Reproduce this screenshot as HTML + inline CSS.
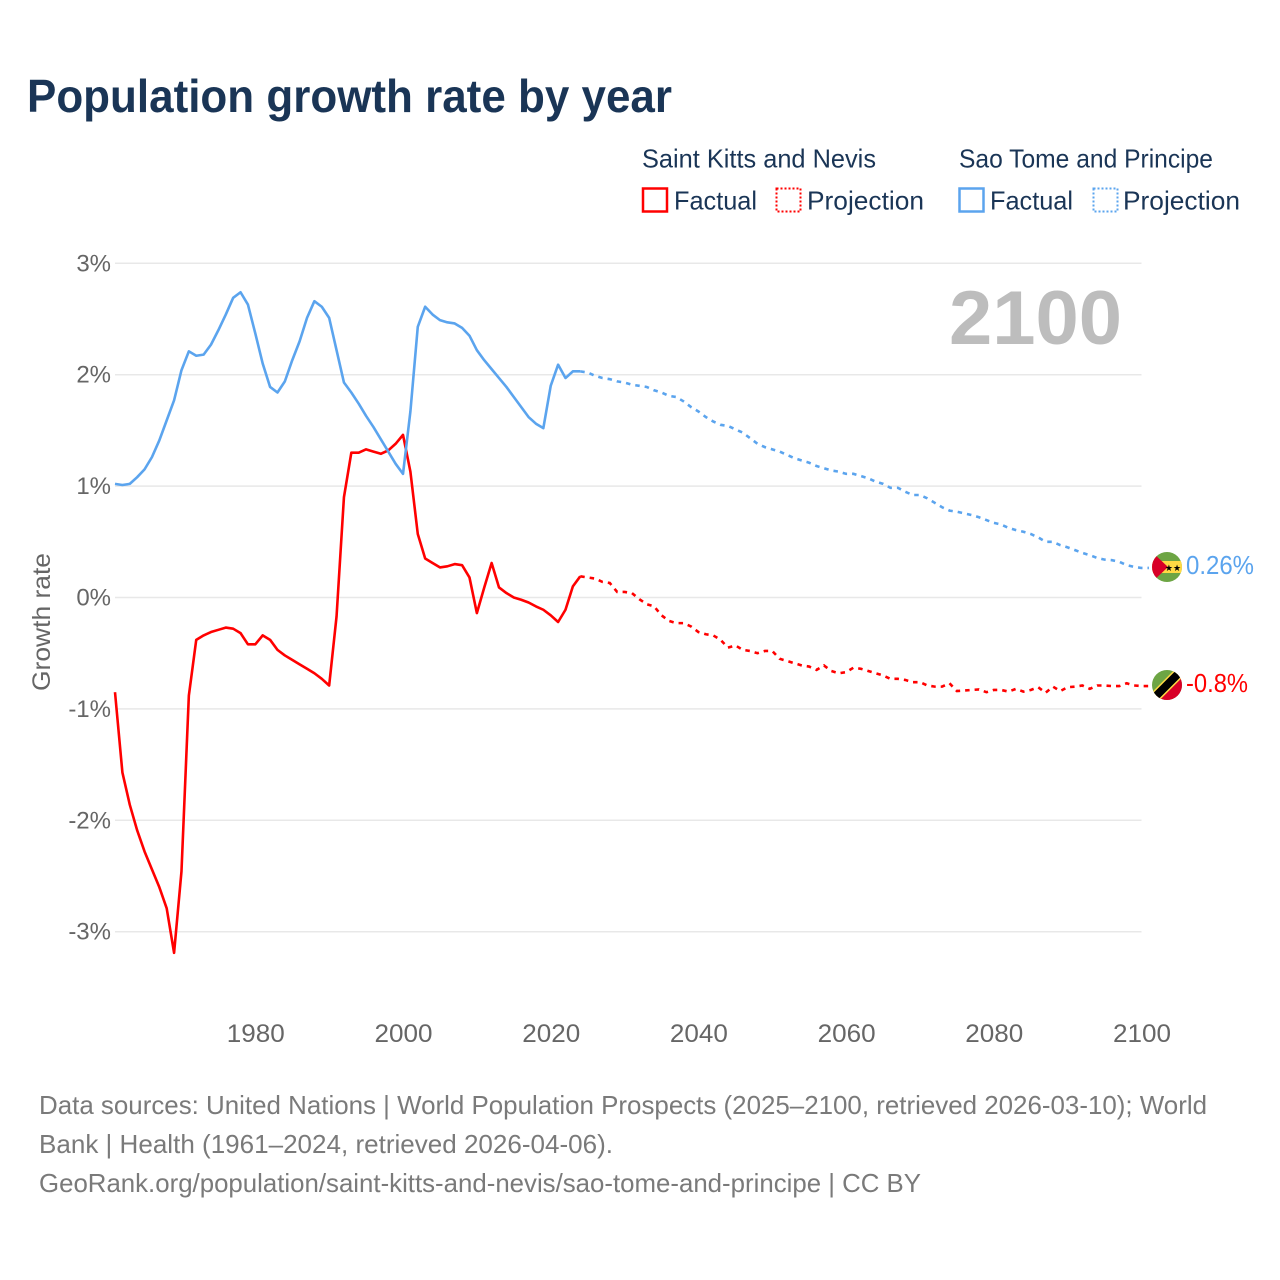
<!DOCTYPE html>
<html lang="en">
<head>
<meta charset="utf-8">
<title>Population growth rate by year</title>
<style>
html,body{margin:0;padding:0;background:#fff;}
svg{display:block;font-family:"Liberation Sans",sans-serif;}
</style>
</head>
<body>
<svg id="chart" xmlns="http://www.w3.org/2000/svg" width="1280" height="1280" viewBox="0 0 1280 1280">
  <defs>
    <clipPath id="flag-clip-a"><circle cx="1167" cy="567" r="15"/></clipPath>
    <clipPath id="flag-clip-b"><circle cx="1167" cy="685" r="15"/></clipPath>
  </defs>
  <rect x="0" y="0" width="1280" height="1280" fill="#fff"/>
  <text x="27" y="112" font-size="46" font-weight="700" fill="#1a3556" textLength="645" lengthAdjust="spacingAndGlyphs">Population growth rate by year</text>

  <g font-size="26" fill="#1a3556">
    <text x="642" y="167.500" textLength="234" lengthAdjust="spacingAndGlyphs">Saint Kitts and Nevis</text>
    <text x="959" y="167.500" textLength="254" lengthAdjust="spacingAndGlyphs">Sao Tome and Principe</text>
    <rect x="643" y="188.500" width="24" height="23" fill="none" stroke="#ff0000" stroke-width="2.500"/>
    <text x="674" y="209.500" textLength="83" lengthAdjust="spacingAndGlyphs">Factual</text>
    <rect x="776.500" y="188.500" width="24" height="23" fill="none" stroke="#ff0000" stroke-width="2" stroke-dasharray="2 2"/>
    <text x="807" y="209.500" textLength="117" lengthAdjust="spacingAndGlyphs">Projection</text>
    <rect x="959.500" y="188.500" width="24" height="23" fill="none" stroke="#5ba4ee" stroke-width="2.500"/>
    <text x="990" y="209.500" textLength="83" lengthAdjust="spacingAndGlyphs">Factual</text>
    <rect x="1093.500" y="188.500" width="24" height="23" fill="none" stroke="#5ba4ee" stroke-width="2" stroke-dasharray="2 2"/>
    <text x="1123" y="209.500" textLength="117" lengthAdjust="spacingAndGlyphs">Projection</text>
  </g>

  <g id="grid"></g>
  <g id="y-ticks" font-size="24" fill="#666"></g>
  <g id="x-ticks" font-size="25" fill="#666"></g>

  <text transform="translate(50 622) rotate(-90)" text-anchor="middle" font-size="25" fill="#666" textLength="138" lengthAdjust="spacingAndGlyphs">Growth rate</text>
  <text x="1122" y="344" text-anchor="end" font-size="76" font-weight="700" fill="#bdbdbd" textLength="173" lengthAdjust="spacingAndGlyphs">2100</text>

  <g id="series"></g>

  <g clip-path="url(#flag-clip-a)">
    <rect x="1152" y="552" width="30" height="30" fill="#6da544"/>
    <rect x="1152" y="561" width="30" height="12" fill="#ffda44"/>
    <polygon points="1150,550 1168,567 1150,584" fill="#d80027"/>
    <text x="1173" y="571" font-size="9" text-anchor="middle" fill="#000">★★</text>
  </g>
  <g clip-path="url(#flag-clip-b)">
    <rect x="1152" y="670" width="30" height="30" fill="#6da544"/>
    <polygon points="1182,670 1182,700 1152,700" fill="#d80027"/>
    <line x1="1150" y1="702" x2="1184" y2="668" stroke="#ffda44" stroke-width="11"/>
    <line x1="1150" y1="702" x2="1184" y2="668" stroke="#000" stroke-width="8"/>
  </g>

  <text x="1186" y="574" font-size="26" fill="#5ba4ee" textLength="68" lengthAdjust="spacingAndGlyphs">0.26%</text>
  <text x="1186" y="692" font-size="26" fill="#ff0000" textLength="62" lengthAdjust="spacingAndGlyphs">-0.8%</text>

  <g font-size="26" fill="#7a7a7a">
    <text x="39" y="1114" textLength="1168" lengthAdjust="spacingAndGlyphs">Data sources: United Nations | World Population Prospects (2025–2100, retrieved 2026-03-10); World</text>
    <text x="39" y="1153" textLength="574" lengthAdjust="spacingAndGlyphs">Bank | Health (1961–2024, retrieved 2026-04-06).</text>
    <text x="39" y="1192" textLength="882" lengthAdjust="spacingAndGlyphs">GeoRank.org/population/saint-kitts-and-nevis/sao-tome-and-principe | CC BY</text>
  </g>
</svg>
<script>
const firstYear = 1961;
const yTickValues = [3, 2, 1, 0, -1, -2, -3];
const yTickLabels = ["3%", "2%", "1%", "0%", "-1%", "-2%", "-3%"];
const xTickYears = [1980, 2000, 2020, 2040, 2060, 2080, 2100];

const kittsFactual = [-0.85,-1.57,-1.86,-2.09,-2.28,-2.44,-2.60,-2.79,-3.19,-2.46,-0.88,-0.38,-0.34,-0.31,-0.29,-0.27,-0.28,-0.32,-0.42,-0.42,-0.34,-0.38,-0.47,-0.52,-0.56,-0.60,-0.64,-0.68,-0.73,-0.79,-0.17,0.90,1.30,1.30,1.33,1.31,1.29,1.32,1.38,1.46,1.13,0.57,0.35,0.31,0.27,0.28,0.30,0.29,0.18,-0.14,0.09,0.31,0.09,0.04,0.00,-0.02,-0.045,-0.08,-0.11,-0.16,-0.22,-0.11,0.10,0.19];

const kittsProjection = [0.19,0.18,0.17,0.14,0.13,0.05,0.05,0.04,-0.015,-0.06,-0.08,-0.16,-0.21,-0.23,-0.23,-0.26,-0.31,-0.33,-0.34,-0.38,-0.45,-0.43,-0.47,-0.48,-0.50,-0.48,-0.48,-0.55,-0.57,-0.59,-0.61,-0.62,-0.65,-0.61,-0.66,-0.68,-0.67,-0.63,-0.64,-0.66,-0.68,-0.70,-0.73,-0.73,-0.74,-0.76,-0.76,-0.79,-0.80,-0.80,-0.77,-0.84,-0.835,-0.83,-0.825,-0.85,-0.83,-0.83,-0.845,-0.82,-0.845,-0.83,-0.805,-0.855,-0.80,-0.84,-0.805,-0.80,-0.79,-0.82,-0.79,-0.79,-0.795,-0.795,-0.77,-0.79,-0.795,-0.795];

const saoTomeFactual = [1.02,1.01,1.02,1.08,1.15,1.26,1.41,1.59,1.77,2.04,2.21,2.17,2.18,2.27,2.40,2.54,2.69,2.74,2.63,2.37,2.10,1.89,1.84,1.94,2.13,2.30,2.51,2.66,2.61,2.51,2.22,1.93,1.84,1.74,1.63,1.53,1.42,1.31,1.20,1.11,1.67,2.43,2.61,2.54,2.49,2.47,2.46,2.42,2.35,2.22,2.13,2.05,1.97,1.89,1.80,1.71,1.62,1.56,1.52,1.90,2.09,1.97,2.03,2.03];

const saoTomeProjection = [2.03,2.02,1.99,1.97,1.96,1.94,1.93,1.91,1.90,1.89,1.86,1.84,1.81,1.80,1.76,1.71,1.67,1.62,1.58,1.55,1.54,1.51,1.48,1.43,1.38,1.35,1.33,1.31,1.28,1.25,1.23,1.21,1.18,1.16,1.14,1.13,1.11,1.11,1.09,1.07,1.04,1.02,0.985,0.985,0.95,0.92,0.92,0.89,0.85,0.81,0.78,0.77,0.755,0.74,0.72,0.695,0.67,0.655,0.625,0.605,0.59,0.57,0.54,0.50,0.50,0.47,0.45,0.425,0.40,0.38,0.355,0.34,0.335,0.32,0.29,0.275,0.265,0.265];

const SVG_NS = "http://www.w3.org/2000/svg";
function xScale(year) { return 115 + (year - 1961) * 7.385; }
function yScale(v) { return 597.5 - v * 111.4; }

const gridG = document.getElementById("grid");
const yG = document.getElementById("y-ticks");
const xG = document.getElementById("x-ticks");
const seriesG = document.getElementById("series");

yTickValues.forEach(function (v, i) {
  const line = document.createElementNS(SVG_NS, "line");
  
  
  line.setAttribute("x1", 115);
  line.setAttribute("x2", xScale(2100));
  line.setAttribute("y1", yScale(v));
  line.setAttribute("y2", yScale(v));
  line.setAttribute("stroke", "#e8e8e8");
  line.setAttribute("stroke-width", "1.5");
  gridG.appendChild(line);

  const t = document.createElementNS(SVG_NS, "text");
  
  
  t.setAttribute("x", 111);
  t.setAttribute("y", yScale(v) + 8);
  t.setAttribute("text-anchor", "end");
  t.textContent = yTickLabels[i];
  yG.appendChild(t);
});

xTickYears.forEach(function (year) {
  const t = document.createElementNS(SVG_NS, "text");
  
  
  t.setAttribute("x", xScale(year) + 0.5);
  t.setAttribute("y", 1042);
  t.setAttribute("text-anchor", "middle");
  t.setAttribute("textLength", "58");
  t.setAttribute("lengthAdjust", "spacingAndGlyphs");
  t.textContent = String(year);
  xG.appendChild(t);
});

function linePath(values, startYear) {
  return values.map(function (v, i) {
    return (i ? "L" : "M") + xScale(startYear + i).toFixed(2) + " " + yScale(v).toFixed(2);
  }).join(" ");
}

const projStart = firstYear + kittsFactual.length - 1;

const p1 = document.createElementNS(SVG_NS, "path");


p1.setAttribute("d", linePath(kittsProjection, projStart));
p1.setAttribute("fill", "none");
p1.setAttribute("stroke", "#ff0000");
p1.setAttribute("stroke-width", "2.6");
p1.setAttribute("stroke-dasharray", "4.5 5");
seriesG.appendChild(p1);

const p2 = document.createElementNS(SVG_NS, "path");


p2.setAttribute("d", linePath(saoTomeProjection, projStart));
p2.setAttribute("fill", "none");
p2.setAttribute("stroke", "#5ba4ee");
p2.setAttribute("stroke-width", "2.6");
p2.setAttribute("stroke-dasharray", "4.5 5");
seriesG.appendChild(p2);

const p3 = document.createElementNS(SVG_NS, "path");


p3.setAttribute("d", linePath(kittsFactual, firstYear));
p3.setAttribute("fill", "none");
p3.setAttribute("stroke", "#ff0000");
p3.setAttribute("stroke-width", "2.6");
p3.setAttribute("stroke-linejoin", "round");
seriesG.appendChild(p3);

const p4 = document.createElementNS(SVG_NS, "path");


p4.setAttribute("d", linePath(saoTomeFactual, firstYear));
p4.setAttribute("fill", "none");
p4.setAttribute("stroke", "#5ba4ee");
p4.setAttribute("stroke-width", "2.6");
p4.setAttribute("stroke-linejoin", "round");
seriesG.appendChild(p4);
</script>
</body>
</html>
